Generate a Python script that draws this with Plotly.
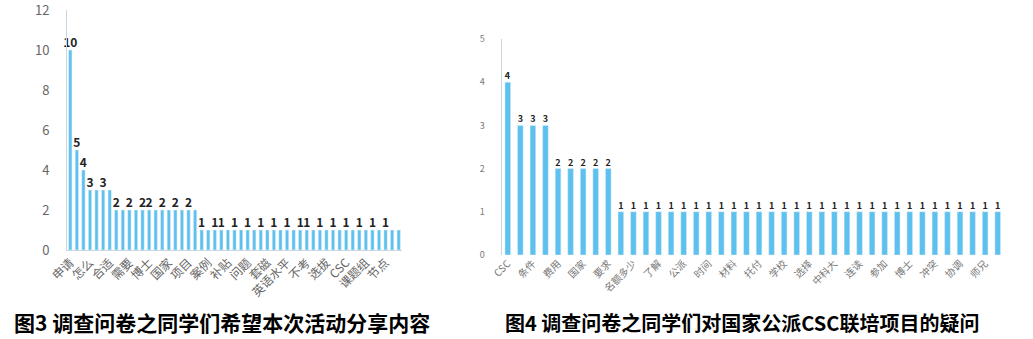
import plotly.graph_objects as go

# ---------------- data: chart 1 (图3) ----------------
values1 = [10, 5, 4, 3, 3, 3, 3] + [2] * 13 + [1] * 31
tick_labels1 = ["申请", "怎么", "合适", "需要", "博士", "国家", "项目", "案例", "补贴",
                "问题", "套磁", "英语水平", "不考", "选拔", "CSC", "课题组", "节点"]
shown_labels1 = [0, 1, 2, 3, 5, 7, 9, 11, 12, 14, 16, 18, 20, 22, 23, 25, 27, 29,
                 31, 33, 35, 36, 38, 40, 42, 44, 46, 48]
y_ticks1 = [0, 2, 4, 6, 8, 10, 12]
caption1 = "图3 调查问卷之同学们希望本次活动分享内容"

# ---------------- data: chart 2 (图4) ----------------
values2 = [4, 3, 3, 3, 2, 2, 2, 2, 2] + [1] * 31
tick_labels2 = ["CSC", "条件", "费用", "国家", "要求", "名额多少", "了解", "公派", "时间",
                "材料", "托付", "学校", "选择", "中科大", "连读", "参加", "博士", "冲突",
                "协调", "师兄"]
y_ticks2 = [0, 1, 2, 3, 4, 5]
caption2 = "图4 调查问卷之同学们对国家公派CSC联培项目的疑问"

W, H = 1033, 339
BAR = "#5CC1EE"
FONT = "Noto Sans CJK SC"

x1 = list(range(len(values1)))
x2 = list(range(len(values2)))
text1 = [str(v) if i in shown_labels1 else "" for i, v in enumerate(values1)]
text2 = [str(v) for v in values2]

fig = go.Figure()
fig.add_trace(go.Bar(
    x=x1, y=values1, marker_color=BAR, width=0.5,
    text=text1, textposition="outside", constraintext="none", cliponaxis=False,
    textfont=dict(family=FONT, size=12, color="#222222", weight="bold"),
    xaxis="x", yaxis="y", showlegend=False, hoverinfo="skip"))
fig.add_trace(go.Bar(
    x=x2, y=values2, marker_color=BAR, width=0.45,
    text=text2, textposition="outside", constraintext="none", cliponaxis=False,
    textfont=dict(family=FONT, size=9, color="#222222", weight="bold"),
    xaxis="x2", yaxis="y2", showlegend=False, hoverinfo="skip"))


def px_x(p):
    return p / W


def px_y(p):
    return (H - p) / H


axis_common = dict(showgrid=False, zeroline=False, fixedrange=True, automargin=False,
                   ticklabeloverflow="allow")

fig.update_layout(
    width=W, height=H, margin=dict(l=0, r=0, t=0, b=0, autoexpand=False),
    paper_bgcolor="white", plot_bgcolor="white",
    font=dict(family=FONT),
    xaxis=dict(domain=[px_x(67), px_x(402)], range=[-0.5, len(values1) - 0.5],
               tickmode="array", tickvals=x1[::3], ticktext=tick_labels1,
               tickangle=-45, tickfont=dict(size=12, color="#666666"),
               showline=True, linecolor="#C9D7E3", linewidth=1,
               ticks="", anchor="y", **axis_common),
    yaxis=dict(domain=[px_y(250), px_y(10)], range=[0, 12.001],
               tickmode="array", tickvals=y_ticks1,
               tickfont=dict(size=13, color="#666666"),
               showline=True, linecolor="#C9D7E3", linewidth=1,
               ticks="", ticklabelstandoff=14, anchor="x", **axis_common),
    xaxis2=dict(domain=[px_x(501.5), px_x(1004)], range=[-0.5, len(values2) - 0.5],
                tickmode="array", tickvals=x2[::2], ticktext=tick_labels2,
                tickangle=-45, tickfont=dict(size=10, color="#777777"),
                showline=False, ticks="", anchor="y2", **axis_common),
    yaxis2=dict(domain=[px_y(255), px_y(39)], range=[0, 5.001],
                tickmode="array", tickvals=y_ticks2,
                tickfont=dict(size=9, color="#777777"),
                showline=True, linecolor="#C9D7E3", linewidth=1,
                ticks="", ticklabelstandoff=14, anchor="x2", **axis_common),
    annotations=[
        dict(text=caption1, x=px_x(12), y=px_y(322), xref="paper", yref="paper",
             xanchor="left", yanchor="middle", showarrow=False,
             font=dict(family=FONT, size=21, color="#000000", weight="bold")),
        dict(text=caption2, x=px_x(503), y=px_y(322), xref="paper", yref="paper",
             xanchor="left", yanchor="middle", showarrow=False,
             font=dict(family=FONT, size=20, color="#000000", weight="bold")),
    ],
)

fig.write_html("out.html")
